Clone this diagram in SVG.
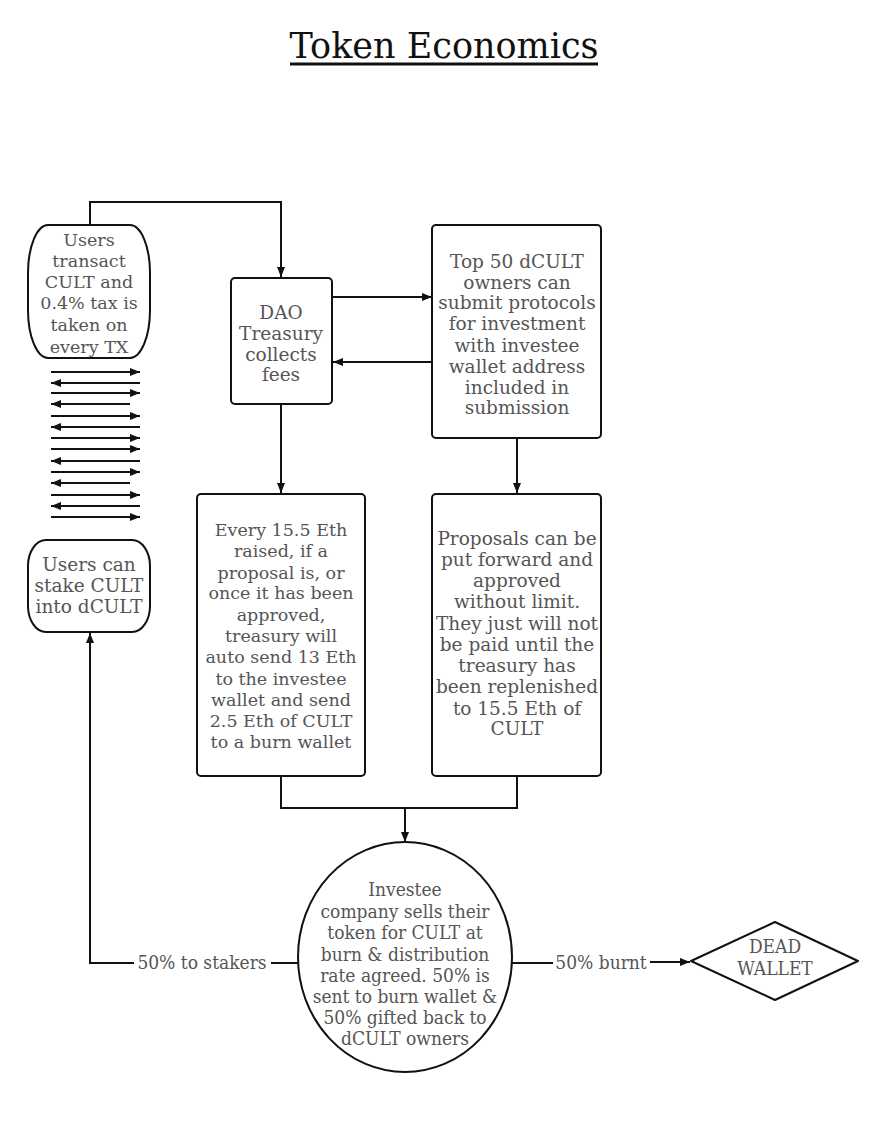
<svg xmlns="http://www.w3.org/2000/svg" width="883" height="1122" viewBox="0 0 883 1122">
<defs>
<marker id="ah" viewBox="0 0 10 10" refX="10" refY="5" markerWidth="10" markerHeight="10" markerUnits="userSpaceOnUse" orient="auto">
<path d="M0,1 L10,5 L0,9 Z" fill="#111"/>
</marker>
<style>
.n{fill:#fff;stroke:#111;stroke-width:2}
.t{font-family:"DejaVu Serif",serif;font-size:18.5px;fill:#555;text-anchor:middle}
.s{font-size:17.5px}
.e{font-family:"DejaVu Serif Condensed","DejaVu Serif",serif;font-size:19px}
.c{fill:none;stroke:#111;stroke-width:2}
.a{fill:none;stroke:#111;stroke-width:2;marker-end:url(#ah)}
.title{font-family:"DejaVu Serif",serif;font-size:35px;fill:#111;text-anchor:middle}
</style>
</defs>
<rect width="883" height="1122" fill="#fff"/>
<g id="title">
<text class="title" x="444" y="58">Token Economics</text>
<line x1="290" y1="64" x2="598" y2="64" stroke="#111" stroke-width="3"/>
</g>
<g id="connectors">
<path class="a" d="M90,225 V202 H281 V277"/>
<path class="a" d="M332,297 H432"/>
<path class="a" d="M432,362 H333"/>
<path class="a" d="M281,404 V493"/>
<path class="a" d="M517,438 V493"/>
<path class="c" d="M281,776 V808 H517 V776"/>
<path class="a" d="M405,808 V842"/>
<path class="c" d="M298,963 H271"/>
<path class="a" d="M134,963 H90 V633"/>
<path class="c" d="M512,963 H553"/>
<path class="a" d="M650,962 H690"/>
<g id="tx-arrows">
<path class="a" d="M51,372 H140"/>
<path class="a" d="M140,383 H51"/>
<path class="a" d="M51,393 H140"/>
<path class="a" d="M130,404 H51"/>
<path class="a" d="M51,416 H140"/>
<path class="a" d="M140,427 H51"/>
<path class="a" d="M51,438 H140"/>
<path class="a" d="M51,449 H140"/>
<path class="a" d="M140,461 H51"/>
<path class="a" d="M51,472 H140"/>
<path class="a" d="M130,483 H51"/>
<path class="a" d="M51,495 H140"/>
<path class="a" d="M140,506 H51"/>
<path class="a" d="M51,517 H140"/>
</g>
</g>
<g id="users-transact">
<rect class="n" x="28" y="225" width="122" height="133" rx="20" ry="48"/>
<text class="t s" x="89" y="246">Users</text>
<text class="t s" x="89" y="267">transact</text>
<text class="t s" x="89" y="288">CULT and</text>
<text class="t s" x="89" y="309">0.4% tax is</text>
<text class="t s" x="89" y="331">taken on</text>
<text class="t s" x="89" y="353">every TX</text>
</g>
<g id="dao-treasury">
<rect class="n" x="231" y="278" width="101" height="126" rx="4"/>
<text class="t" x="281" y="319">DAO</text>
<text class="t" x="281" y="340">Treasury</text>
<text class="t" x="281" y="361">collects</text>
<text class="t" x="281" y="381">fees</text>
</g>
<g id="top50">
<rect class="n" x="432" y="225" width="169" height="213" rx="4"/>
<text class="t" x="517" y="268">Top 50 dCULT</text>
<text class="t" x="517" y="289">owners can</text>
<text class="t" x="517" y="309">submit protocols</text>
<text class="t" x="517" y="330">for investment</text>
<text class="t" x="517" y="352">with investee</text>
<text class="t" x="517" y="373">wallet address</text>
<text class="t" x="517" y="394">included in</text>
<text class="t" x="517" y="414">submission</text>
</g>
<g id="users-stake">
<rect class="n" x="28" y="540" width="122" height="92" rx="18" ry="26"/>
<text class="t" x="89" y="571">Users can</text>
<text class="t" x="89" y="592">stake CULT</text>
<text class="t" x="89" y="613">into dCULT</text>
</g>
<g id="every-15">
<rect class="n" x="197" y="494" width="168" height="282" rx="4"/>
<text class="t s" x="281" y="536">Every 15.5 Eth</text>
<text class="t s" x="281" y="557">raised, if a</text>
<text class="t s" x="281" y="579">proposal is, or</text>
<text class="t s" x="281" y="599">once it has been</text>
<text class="t s" x="281" y="621">approved,</text>
<text class="t s" x="281" y="642">treasury will</text>
<text class="t s" x="281" y="663">auto send 13 Eth</text>
<text class="t s" x="281" y="685">to the investee</text>
<text class="t s" x="281" y="706">wallet and send</text>
<text class="t s" x="281" y="727">2.5 Eth of CULT</text>
<text class="t s" x="281" y="748">to a burn wallet</text>
</g>
<g id="proposals">
<rect class="n" x="432" y="494" width="169" height="282" rx="4"/>
<text class="t" x="517" y="545">Proposals can be</text>
<text class="t" x="517" y="566">put forward and</text>
<text class="t" x="517" y="587">approved</text>
<text class="t" x="517" y="608">without limit.</text>
<text class="t" x="517" y="630">They just will not</text>
<text class="t" x="517" y="651">be paid until the</text>
<text class="t" x="517" y="672">treasury has</text>
<text class="t" x="517" y="693">been replenished</text>
<text class="t" x="517" y="715">to 15.5 Eth of</text>
<text class="t" x="517" y="735">CULT</text>
</g>
<g id="investee">
<ellipse class="n" cx="405" cy="957" rx="107" ry="115"/>
<text class="t e" x="405" y="896">Investee</text>
<text class="t e" x="405" y="918">company sells their</text>
<text class="t e" x="405" y="939">token for CULT at</text>
<text class="t e" x="405" y="961">burn &amp; distribution</text>
<text class="t e" x="405" y="982">rate agreed. 50% is</text>
<text class="t e" x="405" y="1003">sent to burn wallet &amp;</text>
<text class="t e" x="405" y="1024">50% gifted back to</text>
<text class="t e" x="405" y="1045">dCULT owners</text>
</g>
<g id="dead-wallet">
<path class="n" d="M691,961 L775,922 L858,961 L775,1000 Z" stroke-linejoin="round"/>
<text class="t e" x="775" y="953">DEAD</text>
<text class="t e" x="775" y="975">WALLET</text>
</g>
<g id="labels">
<text class="t e" x="202" y="969">50% to stakers</text>
<text class="t e" x="601" y="969">50% burnt</text>
</g>
</svg>
